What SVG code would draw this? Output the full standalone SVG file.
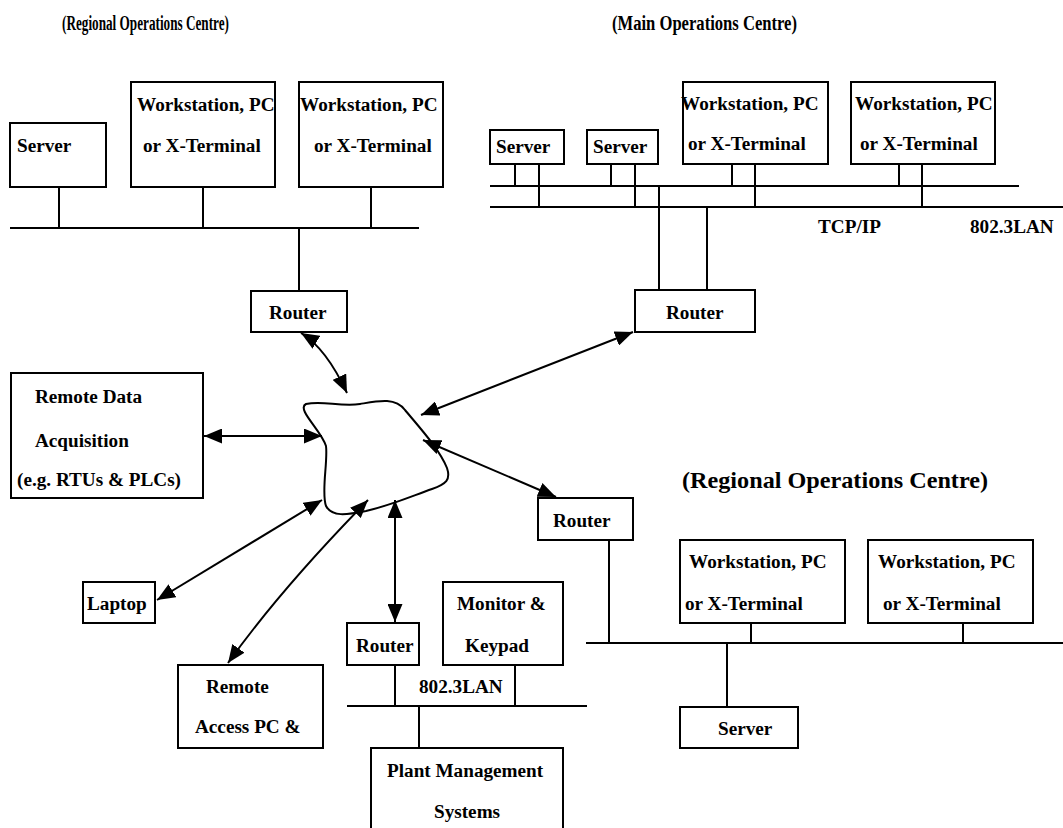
<svg xmlns="http://www.w3.org/2000/svg" width="1063" height="828" viewBox="0 0 1063 828">
  <style>
    .box { fill: #fff; stroke: #000; stroke-width: 2; }
    .ln { fill: none; stroke: #000; stroke-width: 2; }
    .arr { fill: none; stroke: #000; stroke-width: 2; marker-start: url(#ah); marker-end: url(#ah); }
    text { font-family: "Liberation Serif", "Times New Roman", serif; font-weight: bold; font-size: 19.2px; fill: #000; }
    .title { font-size: 20px; }
    .title2 { font-size: 23px; }
  </style>
  <defs>
    <marker id="ah" viewBox="0 0 10 10" refX="10" refY="5" markerWidth="18" markerHeight="15" markerUnits="userSpaceOnUse" orient="auto-start-reverse" preserveAspectRatio="none">
      <path d="M0,0 L10,5 L0,10 z" fill="#000"/>
    </marker>
  </defs>
  <rect width="1063" height="828" fill="#fff"/>

  <!-- Site headings -->
  <g id="titles">
    <text class="title" x="62" y="30" textLength="167" lengthAdjust="spacingAndGlyphs">(Regional Operations Centre)</text>
    <text class="title" x="612" y="30" textLength="185" lengthAdjust="spacingAndGlyphs">(Main Operations Centre)</text>
    <text class="title2" x="682" y="488" textLength="306" lengthAdjust="spacingAndGlyphs">(Regional Operations Centre)</text>
  </g>

  <!-- Wiring: buses, drops and arrows -->
  <g id="connectors">
    <!-- regional centre (top left) -->
    <line class="ln" x1="10" y1="228" x2="419" y2="228"/>
    <line class="ln" x1="59" y1="187" x2="59" y2="228"/>
    <line class="ln" x1="203" y1="187" x2="203" y2="228"/>
    <line class="ln" x1="371" y1="187" x2="371" y2="228"/>
    <line class="ln" x1="299" y1="228" x2="299" y2="291"/>

    <!-- main centre: dual bus -->
    <line class="ln" x1="490" y1="186" x2="1019" y2="186"/>
    <line class="ln" x1="490" y1="207" x2="1063" y2="207"/>
    <line class="ln" x1="515" y1="164" x2="515" y2="186"/>
    <line class="ln" x1="539" y1="164" x2="539" y2="207"/>
    <line class="ln" x1="611" y1="164" x2="611" y2="186"/>
    <line class="ln" x1="635" y1="164" x2="635" y2="207"/>
    <line class="ln" x1="732" y1="164" x2="732" y2="186"/>
    <line class="ln" x1="755" y1="164" x2="755" y2="207"/>
    <line class="ln" x1="899" y1="164" x2="899" y2="186"/>
    <line class="ln" x1="922" y1="164" x2="922" y2="207"/>
    <line class="ln" x1="659" y1="186" x2="659" y2="290"/>
    <line class="ln" x1="707" y1="207" x2="707" y2="290"/>

    <!-- regional centre (bottom right) -->
    <line class="ln" x1="586" y1="643" x2="1063" y2="643"/>
    <line class="ln" x1="609" y1="540" x2="609" y2="643"/>
    <line class="ln" x1="751" y1="623" x2="751" y2="643"/>
    <line class="ln" x1="963" y1="623" x2="963" y2="643"/>
    <line class="ln" x1="727" y1="643" x2="727" y2="707"/>

    <!-- plant LAN -->
    <line class="ln" x1="347" y1="706" x2="587" y2="706"/>
    <line class="ln" x1="395" y1="665" x2="395" y2="706"/>
    <line class="ln" x1="515" y1="665" x2="515" y2="706"/>
    <line class="ln" x1="419" y1="706" x2="419" y2="748"/>

    <!-- links into the WAN cloud -->
    <path class="arr" d="M301,333 Q326,348 347,393"/>
    <path class="arr" d="M633,332 L421,415"/>
    <line class="arr" x1="204" y1="436" x2="322" y2="436"/>
    <path class="arr" d="M423,440 L556,497"/>
    <line class="arr" x1="157" y1="600" x2="322" y2="500"/>
    <path class="arr" d="M228,663 Q280,590 368,500"/>
    <line class="arr" x1="395" y1="500" x2="395" y2="622"/>
  </g>

  <!-- WAN cloud -->
  <g id="cloud">
    <path class="ln" fill="#fff" d="M306,404 C322,400 340,407 360,404 C378,401 395,397 405,410 C420,428 440,450 447,468 C451,480 446,484 432,489 C412,496 392,505 366,511 C346,515 332,517 326,506 C321,492 328,462 326,446 C321,430 296,409 306,404 Z"/>
  </g>

  <!-- Regional centre, top left -->
  <g id="rs-server">
    <rect class="box" x="10" y="123" width="96" height="64"/>
    <text x="17" y="152">Server</text>
  </g>
  <g id="rs-ws1">
    <rect class="box" x="131" y="82" width="144" height="105"/>
    <text x="137" y="111">Workstation, PC</text>
    <text x="143" y="152">or X-Terminal</text>
  </g>
  <g id="rs-ws2">
    <rect class="box" x="299" y="82" width="144" height="105"/>
    <text x="300" y="111">Workstation, PC</text>
    <text x="314" y="152">or X-Terminal</text>
  </g>
  <g id="rs-router">
    <rect class="box" x="251" y="291" width="96" height="41"/>
    <text x="269" y="319">Router</text>
  </g>

  <!-- Main centre -->
  <g id="mc-server1">
    <rect class="box" x="490" y="130" width="74" height="34"/>
    <text x="496" y="153">Server</text>
  </g>
  <g id="mc-server2">
    <rect class="box" x="587" y="130" width="71" height="34"/>
    <text x="593" y="153">Server</text>
  </g>
  <g id="mc-ws1">
    <rect class="box" x="683" y="82" width="145" height="82"/>
    <text x="681" y="110">Workstation, PC</text>
    <text x="688" y="150">or X-Terminal</text>
  </g>
  <g id="mc-ws2">
    <rect class="box" x="851" y="82" width="144" height="82"/>
    <text x="855" y="110">Workstation, PC</text>
    <text x="860" y="150">or X-Terminal</text>
  </g>
  <g id="mc-labels">
    <text x="818" y="233">TCP/IP</text>
    <text x="970" y="233">802.3LAN</text>
  </g>
  <g id="mc-router">
    <rect class="box" x="635" y="290" width="120" height="42"/>
    <text x="666" y="319">Router</text>
  </g>

  <!-- Field side -->
  <g id="rda">
    <rect class="box" x="11" y="373" width="192" height="125"/>
    <text x="35" y="403">Remote Data</text>
    <text x="35" y="447">Acquisition</text>
    <text x="17" y="486">(e.g. RTUs &amp; PLCs)</text>
  </g>
  <g id="laptop">
    <rect class="box" x="83" y="582" width="72" height="41"/>
    <text x="87" y="610">Laptop</text>
  </g>
  <g id="remote-pc">
    <rect class="box" x="178" y="665" width="145" height="83"/>
    <text x="206" y="693">Remote</text>
    <text x="195" y="733">Access PC &amp;</text>
  </g>

  <!-- Plant site -->
  <g id="plant-router">
    <rect class="box" x="347" y="623" width="72" height="42"/>
    <text x="356" y="652">Router</text>
  </g>
  <g id="monitor">
    <rect class="box" x="443" y="582" width="120" height="83"/>
    <text x="457" y="610">Monitor &amp;</text>
    <text x="465" y="652">Keypad</text>
  </g>
  <g id="plant-lan-label">
    <text x="419" y="693">802.3LAN</text>
  </g>
  <g id="plant-mgmt">
    <path class="box" d="M371,830 L371,748 L563,748 L563,830"/>
    <text x="387" y="777">Plant Management</text>
    <text x="434" y="818">Systems</text>
  </g>

  <!-- Regional centre, bottom right -->
  <g id="rr-router">
    <rect class="box" x="538" y="498" width="95" height="42"/>
    <text x="553" y="527">Router</text>
  </g>
  <g id="rr-ws1">
    <rect class="box" x="680" y="540" width="165" height="83"/>
    <text x="689" y="568">Workstation, PC</text>
    <text x="685" y="610">or X-Terminal</text>
  </g>
  <g id="rr-ws2">
    <rect class="box" x="868" y="540" width="165" height="83"/>
    <text x="878" y="568">Workstation, PC</text>
    <text x="883" y="610">or X-Terminal</text>
  </g>
  <g id="rr-server">
    <rect class="box" x="680" y="707" width="118" height="41"/>
    <text x="718" y="735">Server</text>
  </g>
</svg>
